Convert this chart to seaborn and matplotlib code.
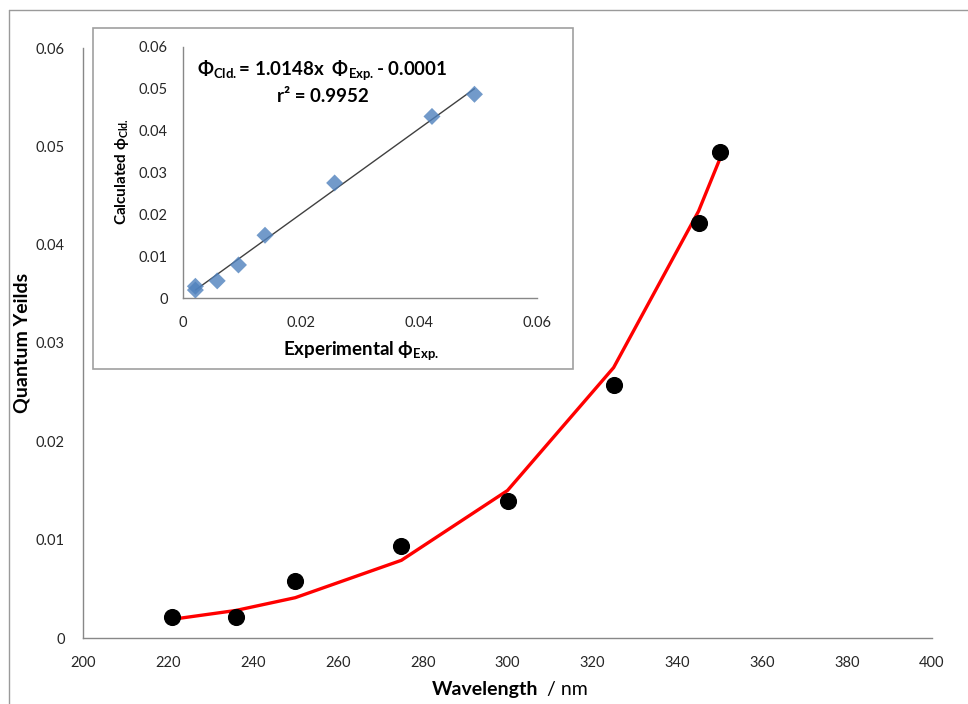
import numpy as np
import pandas as pd
import matplotlib
matplotlib.use("Agg")
import matplotlib.pyplot as plt
import seaborn as sns
from matplotlib.patches import Rectangle
from matplotlib.lines import Line2D

# ---- data ----
wavelength = [221, 236, 250, 275, 300, 325, 345, 350]
qy_exp = [0.0021, 0.0021, 0.0058, 0.0094, 0.0139, 0.0257, 0.0422, 0.0494]
qy_calc = [0.0019, 0.0028, 0.0041, 0.0079, 0.0150, 0.0275, 0.0434, 0.0487]

main_xticks = [200, 220, 240, 260, 280, 300, 320, 340, 360, 380, 400]
main_yticks = [0, 0.01, 0.02, 0.03, 0.04, 0.05, 0.06]
main_ylabels = ["0", "0.01", "0.02", "0.03", "0.04", "0.05", "0.06"]
inset_xticks = [0, 0.02, 0.04, 0.06]
inset_xlabels = ["0", "0.02", "0.04", "0.06"]
inset_yticks = main_yticks
inset_ylabels = main_ylabels

eq_text = "\u03A6$_{\\mathbf{Cld.}}$= 1.0148x  \u03A6$_{\\mathbf{Exp.}}$- 0.0001"
r2_text = "r\u00B2 = 0.9952"

df = pd.DataFrame({"wl": wavelength, "exp": qy_exp, "calc": qy_calc})

sns.set_style("white")
FAM = ["Lato", "DejaVu Sans"]
plt.rcParams["font.family"] = FAM
plt.rcParams["mathtext.fontset"] = "custom"
plt.rcParams["mathtext.bf"] = "Lato:bold"
plt.rcParams["mathtext.rm"] = "Lato"

GRAY = "#888888"
TXT = "#262626"
W, H = 968, 704
fig = plt.figure(figsize=(W / 100, H / 100), dpi=100)

def fx(px):
    return px / W

def fy(py):
    return 1 - py / H

# outer border (left & top)
fig.add_artist(Line2D([fx(9), fx(9)], [fy(10), 0], color="#9a9a9a", lw=1.0))
fig.add_artist(Line2D([fx(9), 1], [fy(10), fy(10)], color="#9a9a9a", lw=1.0))

# ---- main axes ----
ax = fig.add_axes([fx(83), fy(638), fx(932) - fx(83), fy(48) - fy(638)])
ax.set_zorder(0)
sns.lineplot(data=df, x="wl", y="calc", ax=ax, color="#ff0000", lw=2.4, sort=False, zorder=2)
sns.scatterplot(data=df, x="wl", y="exp", ax=ax, color="black", s=130, edgecolor="black", zorder=3)
ax.set_xlim(200, 400)
ax.set_ylim(0, 0.06)
ax.set_xticks(main_xticks)
ax.set_xticklabels([str(t) for t in main_xticks])
ax.set_yticks(main_yticks)
ax.set_yticklabels(main_ylabels)
ax.set_xlabel("")
ax.set_ylabel("")
for s in ["top", "right"]:
    ax.spines[s].set_visible(False)
for s in ["left", "bottom"]:
    ax.spines[s].set_color(GRAY)
    ax.spines[s].set_linewidth(1.0)
ax.tick_params(axis="both", direction="out", length=4, width=1, color=GRAY,
               labelsize=10.5, labelcolor=TXT)
ax.tick_params(axis="x", pad=9)
ax.tick_params(axis="y", pad=9)
ax.patch.set_alpha(0)

fig.text(fx(22), fy(343), "Quantum Yeilds", rotation=90, ha="center", va="center",
         fontsize=14, fontweight="bold", color="black")
fig.text(fx(538), fy(690), "Wavelength", ha="right", va="center",
         fontsize=14, fontweight="bold", color="black")
fig.text(fx(547), fy(690), "/ nm", ha="left", va="center",
         fontsize=14, color="black")

# ---- inset frame ----
frame = Rectangle((fx(93), fy(369)), fx(573) - fx(93), fy(28) - fy(369),
                  transform=fig.transFigure, facecolor="white", edgecolor="#a0a0a0",
                  lw=1.2, zorder=1)
fig.add_artist(frame)

# ---- inset axes ----
ax2 = fig.add_axes([fx(183), fy(298), fx(537) - fx(183), fy(47) - fy(298)])
ax2.set_zorder(2)
sns.regplot(data=df, x="exp", y="calc", ax=ax2, ci=None, marker="D",
            scatter_kws={"s": 75, "color": "#4F81BD", "edgecolor": "none", "zorder": 3},
            line_kws={"color": "#404040", "lw": 1.0, "zorder": 2})
ax2.set_xlim(0, 0.06)
ax2.set_ylim(0, 0.06)
ax2.set_xticks(inset_xticks)
ax2.set_xticklabels(inset_xlabels)
ax2.set_yticks(inset_yticks)
ax2.set_yticklabels(inset_ylabels)
ax2.set_xlabel("")
ax2.set_ylabel("")
for s in ["top", "right"]:
    ax2.spines[s].set_visible(False)
for s in ["left", "bottom"]:
    ax2.spines[s].set_color(GRAY)
    ax2.spines[s].set_linewidth(1.0)
ax2.tick_params(axis="both", direction="out", length=4, width=1, color=GRAY,
                labelsize=10.5, labelcolor=TXT)
ax2.tick_params(axis="x", pad=9)
ax2.tick_params(axis="y", pad=7)
ax2.patch.set_alpha(0)

fig.text(fx(122), fy(171), "Calculated \u03D5$_{\\mathbf{Cld.}}$", rotation=90,
         ha="center", va="center", fontsize=11, fontweight="bold", color="black",
         family=FAM, zorder=5)
fig.text(fx(361), fy(351), "Experimental \u03D5$_{\\mathbf{Exp.}}$", ha="center", va="center",
         fontsize=13.5, fontweight="bold", color="black", family=FAM, zorder=5)
fig.text(fx(322), fy(71), eq_text, ha="center", va="center", fontsize=13.5,
         fontweight="bold", color="black", family=FAM, zorder=5)
fig.text(fx(323), fy(97), r2_text, ha="center", va="center", fontsize=13.5,
         fontweight="bold", color="black", family=FAM, zorder=5)

fig.savefig("out.png", dpi=100)
